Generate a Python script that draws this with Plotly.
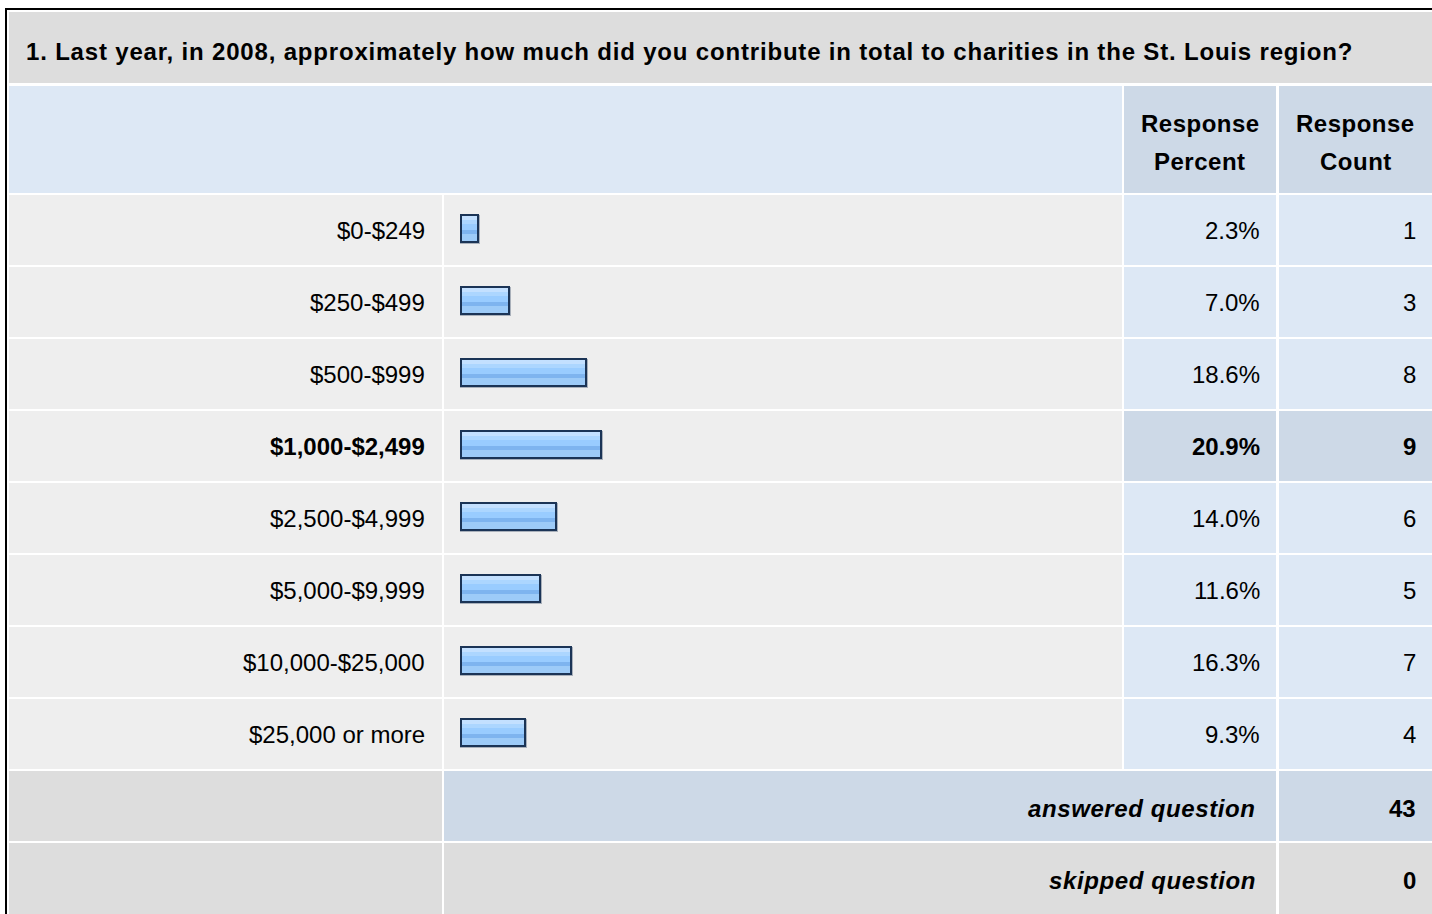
import plotly.graph_objects as go

# ---- data ----
question = "1. Last year, in 2008, approximately how much did you contribute in total to charities in the St. Louis region?"
categories = ["$0-$249", "$250-$499", "$500-$999", "$1,000-$2,499", "$2,500-$4,999",
              "$5,000-$9,999", "$10,000-$25,000", "$25,000 or more"]
percents = [2.3, 7.0, 18.6, 20.9, 14.0, 11.6, 16.3, 9.3]
counts = [1, 3, 8, 9, 6, 5, 7, 4]
header_cols = [["Response", "Percent"], ["Response", "Count"]]
answered = 43
skipped = 0

# ---- layout constants (pixels) ----
W, H = 1432, 914
FONT = "Liberation Sans, Arial, Helvetica, sans-serif"
FS = 24
ROW0, PITCH, ROWH = 195, 72, 70
COLS = {"label": (9, 442), "bar": (444, 1122), "pct": (1124, 1276), "cnt": (1279, 1440)}
BAR_LEFT = 460          # left edge of bar (incl. border)
BORDER_PX = 4           # extra length of bar from its frame
PX_PER_PCT = 6.62
C_TITLE = "#dddddd"
C_HEAD = "#dde8f5"
C_HEAD2 = "#cdd9e7"
C_ROW = "#eeeeee"
C_CELL = "#dde8f5"
C_HI = "#cdd9e7"

n = len(categories)
hi = counts.index(max(counts))

shapes = []
annotations = []


def cell(x0, x1, y0, y1, color):
    shapes.append(dict(type="rect", xref="x", yref="y", x0=x0, x1=x1, y0=y0, y1=y1,
                       fillcolor=color, line=dict(width=0), layer="below"))


def text(x, y, s, anchor="right", bold=False, italic=False, size=FS, spacing=None):
    if spacing:
        s = f'<span style="letter-spacing:{spacing}px">' + s + "</span>"
    if italic:
        s = "<i>" + s + "</i>"
    if bold:
        s = "<b>" + s + "</b>"
    annotations.append(dict(xref="x", yref="y", x=x, y=y, text=s, showarrow=False,
                            xanchor=anchor, yanchor="middle", borderpad=0, borderwidth=0,
                            font=dict(family=FONT, size=size, color="#000000")))


# outer border
shapes.append(dict(type="rect", xref="x", yref="y", x0=6, x1=1460, y0=9, y1=940,
                   line=dict(color="#000000", width=2), fillcolor="rgba(0,0,0,0)", layer="below"))

# title row
cell(9, 1440, 12, 83, C_TITLE)
text(26, 51, question, anchor="left", bold=True, spacing=0.82)

# header row
cell(COLS["label"][0], COLS["bar"][1], 86, 193, C_HEAD)
for key, lines in zip(["pct", "cnt"], header_cols):
    cell(COLS[key][0], COLS[key][1], 86, 193, C_HEAD2)
    cx = (COLS[key][0] + min(COLS[key][1], W)) / 2
    text(cx, 123, lines[0], anchor="center", bold=True, spacing=0.5)
    text(cx, 161, lines[1], anchor="center", bold=True, spacing=0.5)

# data rows
for i in range(n):
    y0 = ROW0 + PITCH * i
    y1 = y0 + ROWH
    yc = y0 + 35
    b = (i == hi)
    cell(*COLS["label"], y0, y1, C_ROW)
    cell(*COLS["bar"], y0, y1, C_ROW)
    cell(*COLS["pct"], y0, y1, C_HI if b else C_CELL)
    cell(*COLS["cnt"], y0, y1, C_HI if b else C_CELL)
    text(425, yc, categories[i], bold=b)
    text(1260, yc, f"{percents[i]:.1f}%", bold=b)
    text(1415.5, yc, str(counts[i]), bold=b)

# footer rows
ya0 = ROW0 + PITCH * n
cell(*COLS["label"], ya0, ya0 + ROWH, C_TITLE)
cell(COLS["bar"][0], COLS["pct"][1], ya0, ya0 + ROWH, C_HI)
cell(*COLS["cnt"], ya0, ya0 + ROWH, C_HI)
text(1255.5, ya0 + 37, "answered question", bold=True, italic=True, spacing=0.6)
text(1415.5, ya0 + 37, str(answered), bold=True)

ys0 = ya0 + PITCH
cell(*COLS["label"], ys0, ys0 + 90, C_TITLE)
cell(COLS["bar"][0], COLS["pct"][1], ys0, ys0 + 90, C_TITLE)
cell(*COLS["cnt"], ys0, ys0 + 90, C_TITLE)
text(1255.5, ys0 + 37, "skipped question", bold=True, italic=True, spacing=0.6)
text(1415.5, ys0 + 37, str(skipped), bold=True)

# ---- figure: pixel grid on x/y (drawn first), bars on x2/y2 (drawn on top) ----
fig = go.Figure()
fig.add_trace(go.Scatter(x=[0], y=[0], mode="markers", marker=dict(opacity=0),
                         hoverinfo="skip", showlegend=False, xaxis="x", yaxis="y"))

rows = list(range(n))
ppx = 1.0 / PX_PER_PCT               # % per pixel
frame = BORDER_PX * ppx              # bar frame extension in % units
ins = 2 * ppx                        # border thickness in % units


def bar_layer(xs, base, top_px, h_px, color):
    fig.add_trace(go.Bar(
        y=rows, x=xs, base=base, orientation="h",
        offset=top_px / PITCH, width=h_px / PITCH,
        marker=dict(color=color, line=dict(width=0)),
        hoverinfo="skip", showlegend=False, xaxis="x2", yaxis="y2"))


full = [p + frame for p in percents]
# shadow
bar_layer([f + ppx for f in full], -frame, -15, 29, "rgba(40,60,90,0.35)")
# dark border
bar_layer(full, -frame, -16, 29, "#1b3456")
# inner fill with glossy bands
inner = [f - 2 * ins for f in full]
b0 = -frame + ins
bar_layer(inner, b0, -14, 25, "#9ccbfc")
bar_layer(inner, b0, -14, 4, "#c3e0ff")
bar_layer(inner, b0, -10, 4, "#acd6ff")
bar_layer(inner, b0, -6, 6, "#99ccff")
bar_layer(inner, b0, -0.5, 4.5, "#7eb4ef")
bar_layer(inner, b0, 4, 7, "#9dcbf8")

data_top = ROW0 - 1
data_bot = data_top + PITCH * n
x2_right = BAR_LEFT + BORDER_PX + 100 * PX_PER_PCT
fig.update_layout(
    width=W, height=H, margin=dict(l=0, r=0, t=0, b=0),
    paper_bgcolor="#ffffff", plot_bgcolor="rgba(0,0,0,0)",
    barmode="overlay", bargap=0,
    xaxis=dict(domain=[0, 1], range=[0, W], visible=False, fixedrange=True, anchor="y"),
    yaxis=dict(domain=[0, 1], range=[H, 0], visible=False, fixedrange=True, anchor="x"),
    xaxis2=dict(domain=[BAR_LEFT / W, x2_right / W], range=[-frame, 100], visible=False,
                fixedrange=True, anchor="y2"),
    yaxis2=dict(domain=[1 - data_bot / H, 1 - data_top / H], range=[n - 0.5, -0.5],
                visible=False, fixedrange=True, anchor="x2"),
    shapes=shapes, annotations=annotations,
)

fig.write_html("out.html", config={"displayModeBar": False, "staticPlot": True},
               post_script="document.body.style.margin='0';document.body.style.overflow='hidden';")
